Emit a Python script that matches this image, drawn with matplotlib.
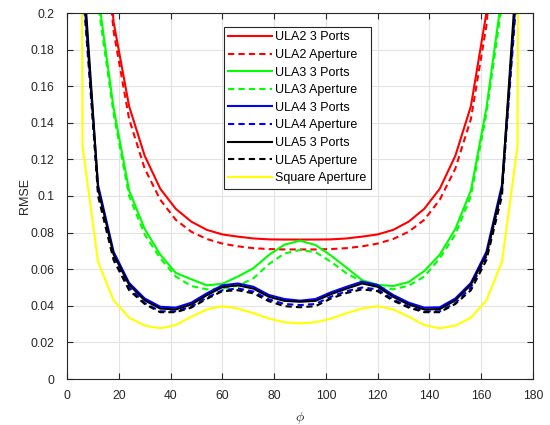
import matplotlib
matplotlib.use('Agg')
from matplotlib import pyplot as plt

plt.rcParams['font.family'] = ['Liberation Sans', 'DejaVu Sans']
plt.rcParams['mathtext.fontset'] = 'cm'

# angle grid (degrees)
phi = [0, 6, 12, 18, 24, 30, 36, 42, 48, 54, 60, 66, 72, 78, 84, 90,
       96, 102, 108, 114, 120, 126, 132, 138, 144, 150, 156, 162, 168, 174, 180]

ula2_ports = [2.0, 0.6, 0.30, 0.195, 0.149, 0.122, 0.104, 0.093, 0.086, 0.0815, 0.079, 0.0778, 0.0768, 0.0763, 0.0762, 0.0762,
              0.0762, 0.0763, 0.0768, 0.0778, 0.079, 0.0815, 0.086, 0.093, 0.104, 0.122, 0.149, 0.20, 0.31, 0.6, 2.0]
ula2_aper = [1.8, 0.55, 0.28, 0.19, 0.142, 0.115, 0.098, 0.087, 0.0805, 0.0765, 0.074, 0.0725, 0.0715, 0.071, 0.0708, 0.0708,
             0.0708, 0.071, 0.0715, 0.0725, 0.074, 0.0765, 0.0805, 0.087, 0.098, 0.115, 0.142, 0.193, 0.29, 0.55, 1.8]
ula3_ports = [1.5, 0.45, 0.21, 0.148, 0.103, 0.082, 0.068, 0.058, 0.0545, 0.0512, 0.052, 0.056, 0.0605, 0.0678, 0.0734, 0.0756,
              0.0732, 0.0674, 0.0608, 0.054, 0.0514, 0.0508, 0.053, 0.059, 0.068, 0.082, 0.103, 0.148, 0.21, 0.45, 1.5]
ula3_aper = [1.4, 0.42, 0.205, 0.145, 0.100, 0.079, 0.066, 0.056, 0.0508, 0.049, 0.0495, 0.051, 0.055, 0.0628, 0.0686, 0.0705,
             0.0693, 0.064, 0.0577, 0.0532, 0.050, 0.049, 0.051, 0.056, 0.066, 0.079, 0.100, 0.145, 0.205, 0.42, 1.4]
ula4_ports = [1.2, 0.22, 0.106, 0.0695, 0.0525, 0.044, 0.0395, 0.039, 0.0417, 0.0468, 0.0512, 0.0522, 0.0504, 0.0459, 0.0437, 0.0428,
              0.0437, 0.0474, 0.0504, 0.0532, 0.0514, 0.0459, 0.0417, 0.039, 0.0392, 0.044, 0.0525, 0.0695, 0.106, 0.22, 1.2]
ula4_aper = [1.15, 0.215, 0.103, 0.067, 0.050, 0.0415, 0.037, 0.037, 0.0395, 0.0445, 0.0485, 0.0495, 0.0478, 0.0435, 0.041, 0.0404,
             0.041, 0.045, 0.048, 0.050, 0.049, 0.0435, 0.0395, 0.037, 0.037, 0.0415, 0.050, 0.067, 0.103, 0.215, 1.15]
ula5_ports = [1.2, 0.23, 0.104, 0.068, 0.0515, 0.043, 0.0385, 0.038, 0.0407, 0.0458, 0.0502, 0.0512, 0.0494, 0.0449, 0.0427, 0.0422,
              0.0427, 0.0464, 0.0494, 0.0522, 0.0504, 0.0449, 0.0407, 0.038, 0.0382, 0.043, 0.0515, 0.068, 0.104, 0.23, 1.2]
ula5_aper = [1.1, 0.225, 0.100, 0.065, 0.0485, 0.041, 0.0365, 0.0365, 0.039, 0.0438, 0.048, 0.0485, 0.0468, 0.0425, 0.0398, 0.0392,
             0.0398, 0.044, 0.047, 0.049, 0.048, 0.0428, 0.039, 0.0365, 0.0365, 0.041, 0.0485, 0.065, 0.100, 0.225, 1.1]
square_aper = [2.5, 0.127, 0.064, 0.043, 0.0335, 0.0292, 0.0277, 0.0295, 0.034, 0.038, 0.0398, 0.0385, 0.036, 0.033, 0.031, 0.0304,
               0.031, 0.033, 0.036, 0.0385, 0.0398, 0.038, 0.034, 0.0295, 0.0277, 0.0292, 0.0335, 0.043, 0.064, 0.127, 2.5]

series = [
    (ula2_ports, 'r', '-', 'ULA2 3 Ports'),
    (ula2_aper, 'r', '--', 'ULA2 Aperture'),
    (ula3_ports, '#00ff00', '-', 'ULA3 3 Ports'),
    (ula3_aper, '#00ff00', '--', 'ULA3 Aperture'),
    (ula4_ports, 'b', '-', 'ULA4 3 Ports'),
    (ula4_aper, 'b', '--', 'ULA4 Aperture'),
    (ula5_ports, 'k', '-', 'ULA5 3 Ports'),
    (ula5_aper, 'k', '--', 'ULA5 Aperture'),
    (square_aper, '#ffff00', '-', 'Square Aperture'),
]

fig = plt.figure(figsize=(5.5, 4.25), dpi=100)
ax = fig.add_axes([67/550, 1 - 379/425, 466/550, 366/425])

for vals, col, ls, lab in series:
    if ls == '--':
        ax.plot(phi, vals, color=col, linestyle=(0, (3, 2)), linewidth=1.5, label=lab)
    else:
        ax.plot(phi, vals, color=col, linestyle='-', linewidth=1.5, label=lab)

ax.set_xlim(0, 180)
ax.set_ylim(0, 0.2)
ax.set_xticks(range(0, 181, 20))
ax.set_yticks([i * 0.02 for i in range(11)])
ax.set_yticklabels(['0', '0.02', '0.04', '0.06', '0.08', '0.1', '0.12', '0.14', '0.16', '0.18', '0.2'])
ax.grid(True, color='#e3e3e3', linewidth=0.8)
ax.set_axisbelow(True)
ax.tick_params(direction='in', top=True, right=True, labelsize=8.7, colors='#262626', length=4, width=0.8)
ax.tick_params(axis='y', pad=9)
ax.tick_params(axis='x', pad=8)
for sp in ax.spines.values():
    sp.set_color('#262626')
    sp.set_linewidth(0.8)

ax.set_xlabel(r'$\phi$', fontsize=10, color='#262626', labelpad=6)
ax.set_ylabel('RMSE', fontsize=9, color='#262626', labelpad=0)

leg = ax.legend(loc='upper left', bbox_to_anchor=(0.337, 0.962), fontsize=9, fancybox=False,
                edgecolor='#262626', framealpha=1, handlelength=3.45, handletextpad=0.3,
                labelspacing=0.45, borderpad=0.35, borderaxespad=0)
leg.get_frame().set_linewidth(0.8)

plt.savefig('out.png', dpi=100)
